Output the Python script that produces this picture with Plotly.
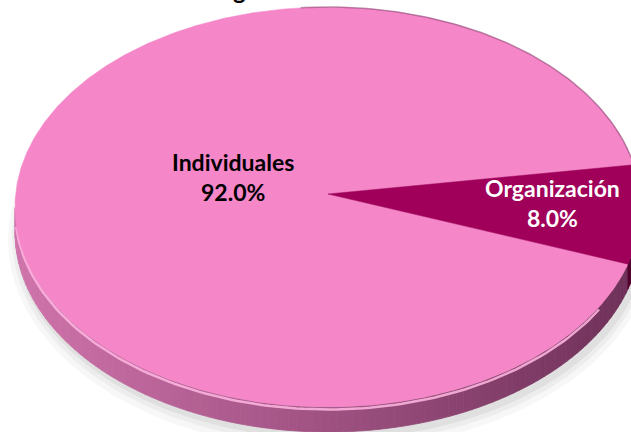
import numpy as np
import plotly.graph_objects as go

# ---- data ----
labels = ["Individuales", "Organización"]
values = [92.0, 8.0]
title_text = "Organización"

# ---- layout constants (pixel space) ----
W, H = 631, 432
CX, CY, RX, RY = 328, 207, 313, 200
APEX = (328, 194)
DEPTH = 25
START = 12.2  # start angle of first slice, degrees, counter-clockwise
top_colors = ["#F586C8", "#A0005A"]
label_pos = [(233, 177), (552, 203)]
label_colors = ["black", "white"]


def rim(phi_deg, dy=0.0):
    t = np.radians(phi_deg)
    return CX + RX * np.cos(t), CY - RY * np.sin(t) + dy


def side_color(phi, idx):
    c = np.cos(np.radians(phi))
    f = (c + 1) / 2
    if idx == 0:
        light = np.array([208, 116, 172])
        dark = np.array([110, 48, 88])
    else:
        light = np.array([120, 0, 66])
        dark = np.array([80, 0, 44])
    col = light * (1 - f) + dark * f
    return "rgb(%d,%d,%d)" % tuple(col.astype(int))


fig = go.Figure()

# soft shadow under the disc
tt = np.linspace(0, 2 * np.pi, 240)
for op, grow, off in [(0.04, 10, 8), (0.05, 6, 6), (0.07, 3, 4)]:
    fig.add_trace(go.Scatter(
        x=CX + 3 + (RX + grow) * np.cos(tt),
        y=CY + DEPTH + off + (RY + grow) * np.sin(tt),
        fill="toself", fillcolor="rgba(60,60,60,%.2f)" % op,
        line=dict(width=0), mode="lines", hoverinfo="skip", showlegend=False))

# slice angular ranges from the values
total = float(sum(values))
bounds = []
a = START
for v in values:
    b = a + 360.0 * v / total
    bounds.append((a, b))
    a = b

# side faces (visible lower half of the rim)
step = 1.5
for i, (a, b) in enumerate(bounds):
    phis = np.arange(a, b + 1e-9, step)
    if phis[-1] < b:
        phis = np.append(phis, b)
    for p0, p1 in zip(phis[:-1], phis[1:]):
        pm = (p0 + p1) / 2
        if np.sin(np.radians(pm)) > 0.0:
            continue
        x0, y0 = rim(p0)
        x1, y1 = rim(p1)
        x2, y2 = rim(p1, DEPTH)
        x3, y3 = rim(p0, DEPTH)
        col = side_color(pm, i)
        fig.add_trace(go.Scatter(
            x=[x0, x1, x2, x3, x0], y=[y0, y1, y2, y3, y0],
            fill="toself", fillcolor=col, line=dict(width=0.8, color=col),
            mode="lines", hoverinfo="skip", showlegend=False))

# highlight along the upper edge of the side band
hp = np.linspace(185, 330, 120)
hx, hy = rim(hp, 2.5)
fig.add_trace(go.Scatter(x=hx, y=hy, mode="lines",
                         line=dict(color="rgba(252,178,222,0.9)", width=2.5),
                         hoverinfo="skip", showlegend=False))

# top faces
for i, (a, b) in enumerate(bounds):
    phis = np.linspace(a, b, max(int((b - a) / 0.5), 4))
    rx, ry = rim(phis)
    xs = np.concatenate([[APEX[0]], rx, [APEX[0]]])
    ys = np.concatenate([[APEX[1]], ry, [APEX[1]]])
    fig.add_trace(go.Scatter(
        x=xs, y=ys, fill="toself", fillcolor=top_colors[i],
        line=dict(width=0.5, color=top_colors[i]), mode="lines",
        name=labels[i], hoverinfo="name", showlegend=False))

# subtle dark outline at the upper right rim
op = np.linspace(10, 95, 120)
ox, oy = rim(op)
fig.add_trace(go.Scatter(x=ox, y=oy, mode="lines",
                         line=dict(color="rgba(110,50,90,0.45)", width=1.5),
                         hoverinfo="skip", showlegend=False))

# labels
for i, lab in enumerate(labels):
    fig.add_annotation(
        x=label_pos[i][0], y=label_pos[i][1], xref="x", yref="y",
        text="<b>%s<br>%.1f%%</b>" % (lab, values[i]),
        showarrow=False, align="center",
        font=dict(family="Lato", size=23, color=label_colors[i]))

# title (cropped at the top of the picture, as in the reference)
fig.add_annotation(
    x=275, y=6, xref="x", yref="y", yanchor="bottom",
    text="<b>%s</b>" % title_text, showarrow=False,
    font=dict(family="Lato", size=24, color="black"))

fig.update_xaxes(range=[0, W], visible=False, fixedrange=True)
fig.update_yaxes(range=[H, 0], visible=False, fixedrange=True)
fig.update_layout(
    width=W, height=H, margin=dict(l=0, r=0, t=0, b=0),
    paper_bgcolor="white", plot_bgcolor="white", showlegend=False)

fig.write_html("out.html", config={"displayModeBar": False},
               post_script="document.body.style.margin='0';")
